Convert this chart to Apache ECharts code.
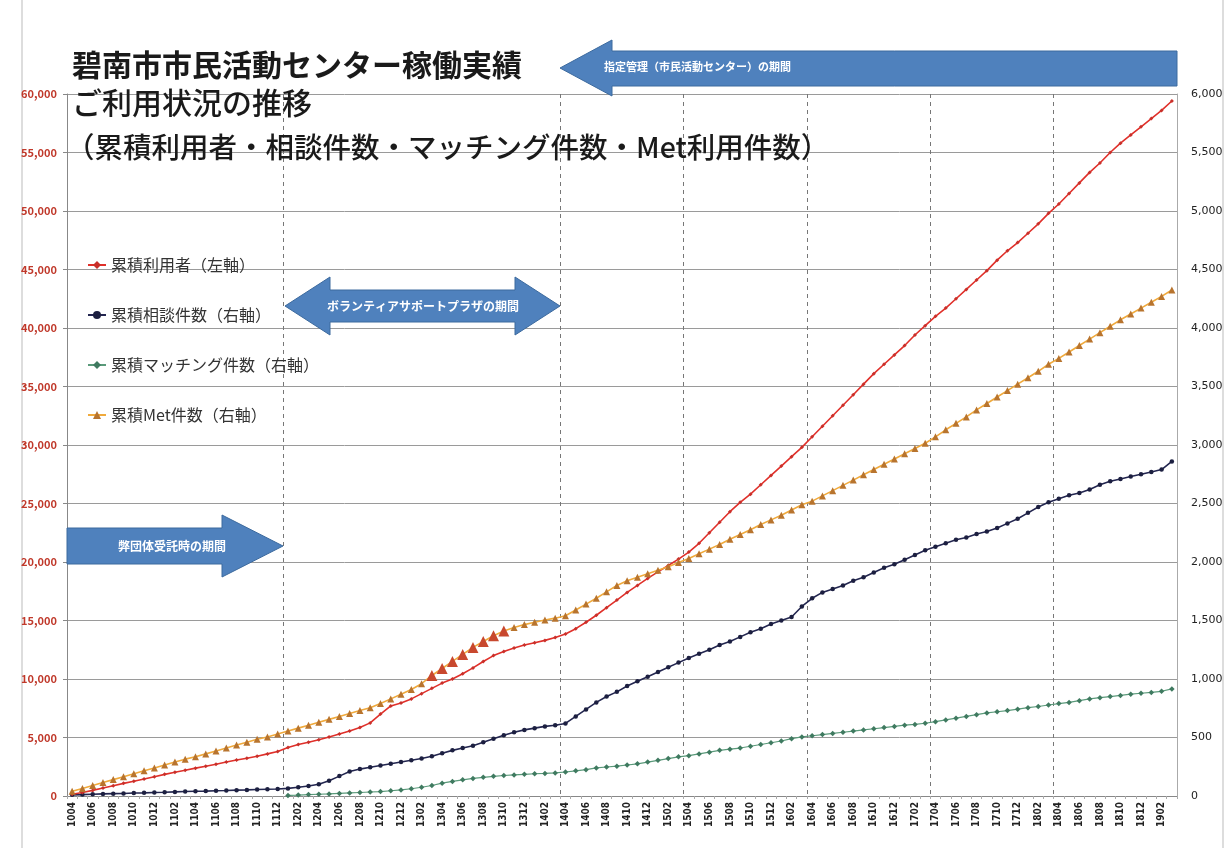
<!DOCTYPE html>
<html><head><meta charset="utf-8">
<script src="https://cdn.jsdelivr.net/npm/echarts@6/dist/echarts.min.js"></script>
<style>html,body{margin:0;padding:0;background:#fff}#c{width:1229px;height:848px}</style>
</head><body><div id="c"></div>
<script>
// Categories: YYMM, 1004 .. 1903
const categories = [];
for (let y = 10; y <= 19; y++) for (let m = 1; m <= 12; m++) {
  const code = y * 100 + m;
  if (code >= 1004 && code <= 1903) categories.push(String(code));
}
const leftTicks = [0,5000,10000,15000,20000,25000,30000,35000,40000,45000,50000,55000,60000];
const rightTicks = [0,500,1000,1500,2000,2500,3000,3500,4000,4500,5000,5500,6000];

// 累積利用者 (left axis)
const users = [150,300,480,680,880,1080,1260,1450,1650,1850,2030,2200,
 2380,2550,2720,2900,3070,3230,3400,3600,3800,4150,4400,4600,
 4800,5050,5300,5550,5850,6250,7000,7700,7950,8300,8750,9200,
 9650,10000,10450,10950,11500,12000,12350,12650,12900,13100,13300,13550,
 13850,14300,14850,15450,16100,16750,17400,18000,18600,19150,19700,20250,
 20850,21600,22500,23400,24300,25100,25800,26600,27400,28200,29000,29800,
 30700,31600,32500,33400,34300,35200,36100,36900,37700,38500,39400,40200,
 41000,41700,42500,43300,44100,44900,45800,46600,47300,48100,48900,49800,
 50600,51500,52400,53300,54100,55000,55800,56500,57200,57900,58600,59400];
// 累積相談件数 (right axis)
const consult = [10,12,15,18,20,22,25,27,30,32,35,38,
 40,42,45,47,50,52,55,58,60,65,75,85,
 100,130,170,210,230,245,260,275,290,305,320,340,
 365,390,410,430,460,490,520,545,565,580,595,605,
 620,680,740,800,850,890,940,980,1020,1060,1100,1140,
 1180,1215,1250,1290,1320,1360,1400,1430,1470,1500,1530,1620,
 1690,1740,1770,1800,1840,1870,1910,1950,1980,2020,2060,2100,
 2130,2160,2190,2210,2240,2260,2290,2330,2370,2420,2470,2510,
 2540,2570,2590,2620,2660,2690,2710,2730,2750,2770,2790,2860];
// 累積マッチング件数 (right axis)
const matching = [null,null,null,null,null,null,null,null,null,null,null,null,
 null,null,null,null,null,null,null,null,null,5,8,12,
 15,18,22,26,30,34,38,45,52,62,75,90,
 110,125,138,150,160,168,175,180,185,190,193,197,
 205,215,225,240,248,255,265,275,290,305,320,335,
 345,360,375,390,400,410,425,440,455,470,490,505,
 515,525,535,545,555,565,575,585,595,605,612,622,
 635,650,665,680,695,710,720,730,742,755,765,778,
 790,800,815,830,840,850,860,870,878,885,895,915];
// 累積Met件数 (right axis)
const met = [40,65,90,115,140,165,190,215,240,265,290,315,
 335,360,385,410,435,460,485,505,530,555,580,605,
 630,655,680,705,730,755,790,830,870,910,960,1030,
 1090,1150,1210,1270,1320,1370,1410,1440,1465,1485,1505,1520,
 1540,1590,1640,1690,1745,1800,1840,1870,1900,1930,1960,1995,
 2030,2070,2110,2150,2195,2235,2275,2320,2360,2400,2445,2490,
 2520,2565,2610,2655,2700,2745,2790,2835,2880,2925,2970,3015,
 3070,3130,3185,3240,3300,3355,3410,3465,3520,3575,3630,3690,
 3740,3795,3850,3905,3960,4015,4070,4120,4170,4220,4270,4325];
const metHighlight = ['1303','1304','1305','1306','1307','1308','1309','1310'];
const periodLines = ['1201','1404','1504','1604','1704','1804'];

const seriesNames = ['累積利用者（左軸）','累積相談件数（右軸）','累積マッチング件数（右軸）','累積Met件数（右軸）'];
const titleLines = ['碧南市市民活動センター稼働実績','ご利用状況の推移','（累積利用者・相談件数・マッチング件数・Met利用件数）'];
const arrowTexts = ['指定管理（市民活動センター）の期間','ボランティアサポートプラザの期間','弊団体受託時の期間'];

const font = '"Noto Sans CJK JP","Noto Sans",sans-serif';
const chart = echarts.init(document.getElementById('c'));
const periodIdx = periodLines.map(c => categories.indexOf(c));
const fmt = v => v.toLocaleString('en-US');
const blue = '#4f81bd';

chart.setOption({
  animation: false,
  backgroundColor: '#fff',
  textStyle: {fontFamily: font},
  grid: {left: 67, right: 52, top: 94, bottom: 52},
  legend: {
    orient: 'vertical', left: 82, top: 252, itemGap: 34, itemWidth: 18, itemHeight: 10,
    data: seriesNames,
    textStyle: {fontSize: 16, color: '#333', fontFamily: font}
  },
  xAxis: {
    type: 'category', data: categories, boundaryGap: true,
    axisLine: {lineStyle: {color: '#888'}},
    axisTick: {show: true, interval: 0, length: 3, lineStyle: {color: '#aaa'}},
    axisLabel: {interval: 1, rotate: 90, fontSize: 10, fontWeight: 'bold', color: '#222', margin: 6, fontFamily: 'DejaVu Sans Condensed, DejaVu Sans'},
    splitLine: {show: true, interval: (i) => periodIdx.includes(i), lineStyle: {type: [4, 4], color: '#777', width: 1}}
  },
  yAxis: [
    {type: 'value', min: 0, max: 60000, interval: 5000,
     axisLine: {show: true, lineStyle: {color: '#888'}},
     axisTick: {show: true, length: 4, lineStyle: {color: '#888'}},
     axisLabel: {formatter: fmt, fontSize: 11, fontWeight: 'bold', color: '#c0392b', margin: 10, customValues: leftTicks},
     splitLine: {show: true, lineStyle: {color: '#9a9a9a', width: 1}}},
    {type: 'value', min: 0, max: 6000, interval: 500,
     axisLine: {show: true, lineStyle: {color: '#aaa'}},
     axisTick: {show: false},
     axisLabel: {formatter: fmt, fontSize: 11, color: '#222', margin: 14, fontFamily: 'DejaVu Sans', customValues: rightTicks},
     splitLine: {show: false}}
  ],
  series: [
    {name: seriesNames[0], type: 'line', yAxisIndex: 0, data: users, showAllSymbol: true,
     lineStyle: {color: '#e0302a', width: 1.6}, itemStyle: {color: '#c8302a'},
     symbol: 'diamond', symbolSize: 4, z: 5},
    {name: seriesNames[1], type: 'line', yAxisIndex: 1, data: consult, showAllSymbol: true,
     lineStyle: {color: '#232650', width: 1.6}, itemStyle: {color: '#1c1f40'},
     symbol: 'circle', symbolSize: 4.5, z: 4},
    {name: seriesNames[2], type: 'line', yAxisIndex: 1, data: matching, showAllSymbol: true,
     lineStyle: {color: '#5a9a7a', width: 1.2}, itemStyle: {color: '#3f7a60'},
     symbol: 'diamond', symbolSize: 5.5, z: 3},
    {name: seriesNames[3], type: 'line', yAxisIndex: 1, showAllSymbol: true,
     data: met.map((v, i) => metHighlight.includes(categories[i])
       ? {value: v, symbolSize: 11, itemStyle: {color: '#c8482e'}} : v),
     lineStyle: {color: '#f0aa3c', width: 1.6}, itemStyle: {color: '#b8742e'},
     symbol: 'triangle', symbolSize: 7, z: 6}
  ],
  graphic: [
    {type: 'line', shape: {x1: 22, y1: 0, x2: 22, y2: 848}, style: {stroke: '#ddd', lineWidth: 2}, silent: true},
    {type: 'line', shape: {x1: 1223, y1: 0, x2: 1223, y2: 848}, style: {stroke: '#ddd', lineWidth: 2}, silent: true},
    {type: 'rect', shape: {x: 70, y: 50, width: 455, height: 40}, style: {fill: '#fff'}, z: 90},
    {type: 'text', left: 72, top: 50, z: 100, style: {text: titleLines[0], font: 'bold 30px ' + font, fill: '#1a1a1a'}},
    {type: 'text', left: 72, top: 88, z: 100, style: {text: titleLines[1], font: '500 30px ' + font, fill: '#1a1a1a'}},
    {type: 'text', left: 66, top: 133, z: 100, style: {text: titleLines[2], font: '500 28.5px ' + font, fill: '#1a1a1a'}},
    // 指定管理 arrow (pointing left)
    {type: 'polygon', z: 100, shape: {points: [[560,68],[612,40],[612,51],[1177,51],[1177,86],[612,86],[612,96]]}, style: {fill: blue, stroke: '#3c6a9e', lineWidth: 1}},
    {type: 'text', left: 604, top: 61, z: 101, style: {text: arrowTexts[0], font: 'bold 11px ' + font, fill: '#fff'}},
    // ボランティア double arrow
    {type: 'polygon', z: 100, shape: {points: [[285,306],[330,277],[330,290],[515,290],[515,277],[560,306],[515,335],[515,322],[330,322],[330,335]]}, style: {fill: blue, stroke: '#3c6a9e', lineWidth: 1}},
    {type: 'text', x: 423, y: 306, z: 101, style: {text: arrowTexts[1], font: 'bold 12px ' + font, fill: '#fff', align: 'center', verticalAlign: 'middle'}},
    // 弊団体 arrow (pointing right)
    {type: 'polygon', z: 100, shape: {points: [[67,528],[222,528],[222,515],[283,546],[222,577],[222,564],[67,564]]}, style: {fill: blue, stroke: '#3c6a9e', lineWidth: 1}},
    {type: 'text', x: 172, y: 546, z: 101, style: {text: arrowTexts[2], font: 'bold 12px ' + font, fill: '#fff', align: 'center', verticalAlign: 'middle'}}
  ]
});
</script></body></html>
